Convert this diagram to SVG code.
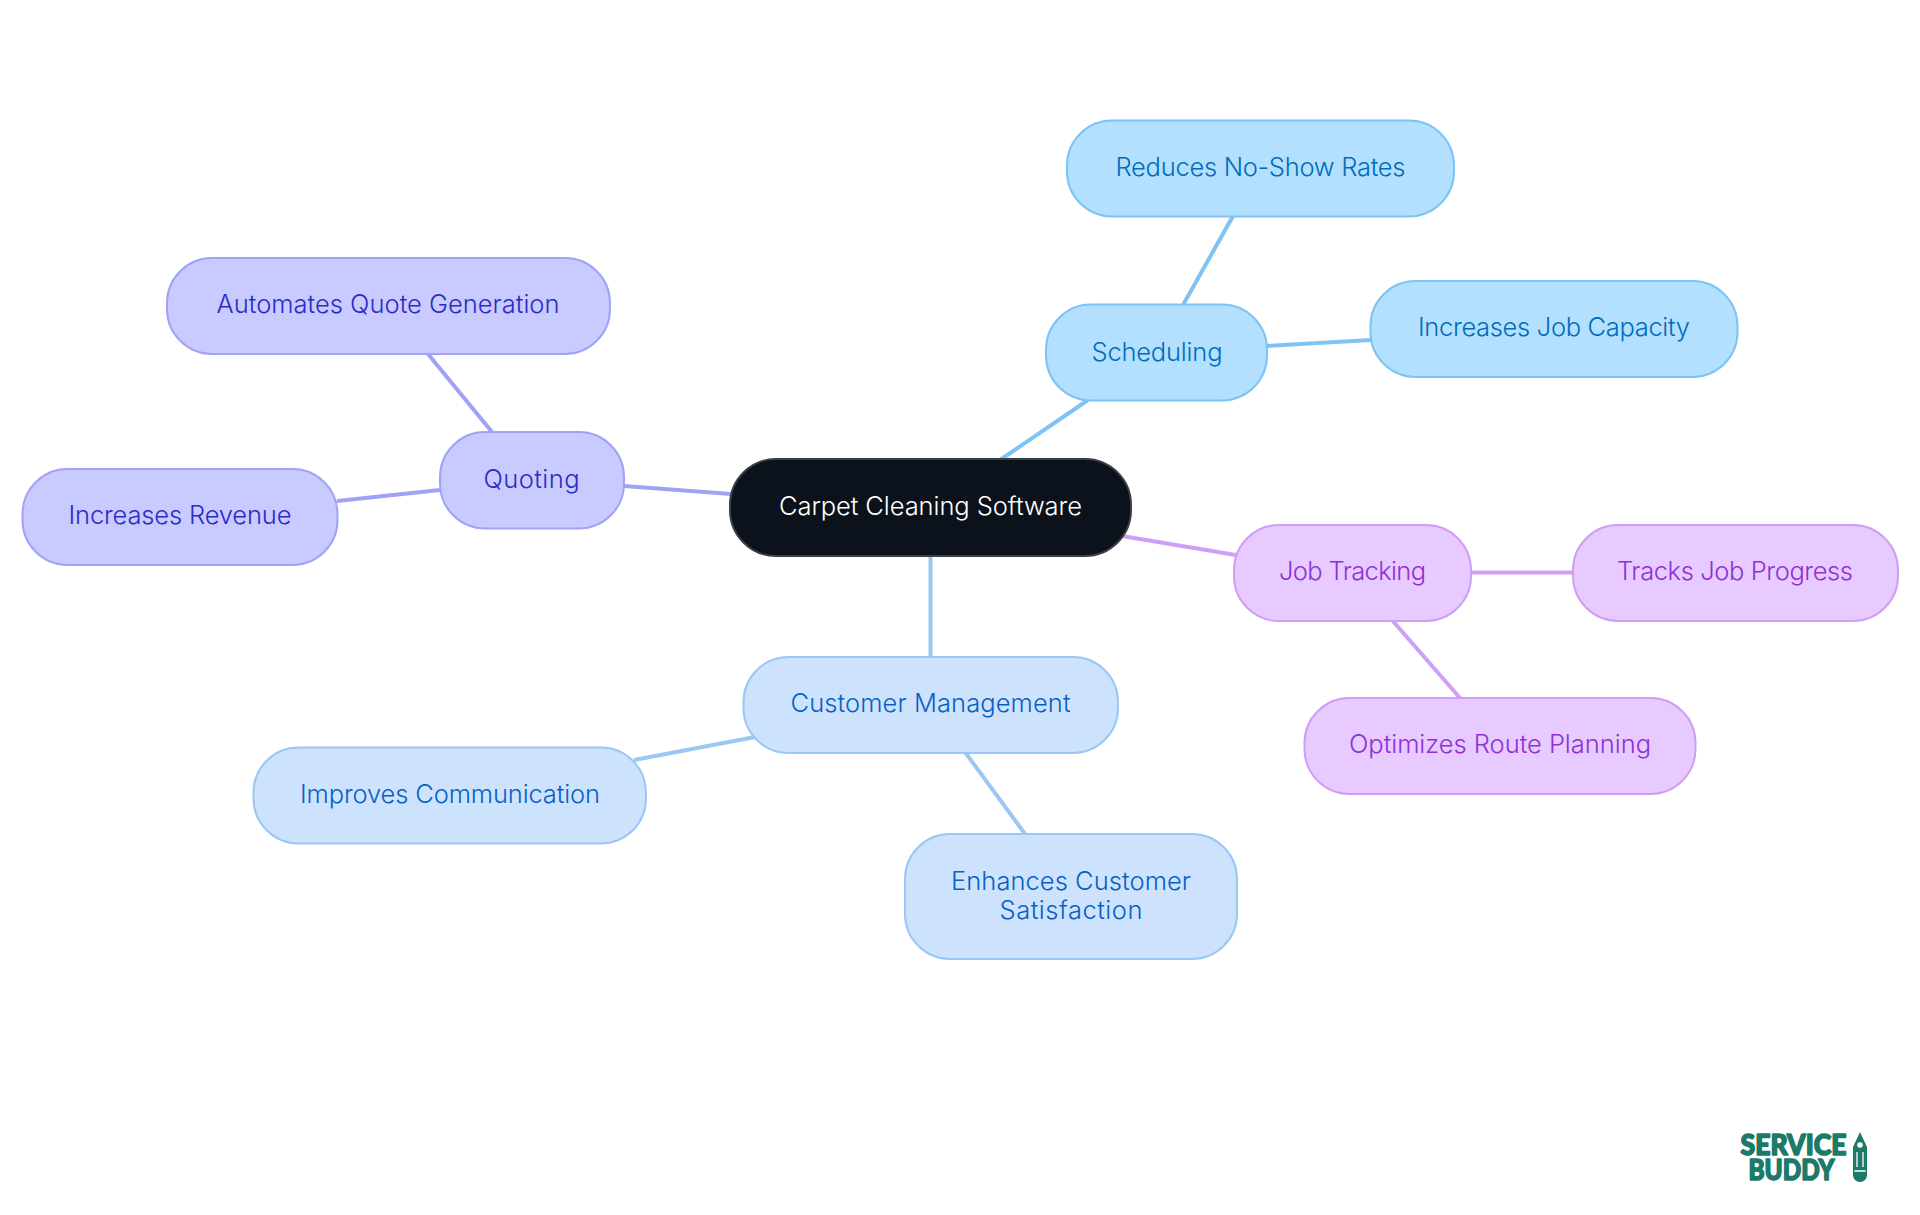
<svg xmlns="http://www.w3.org/2000/svg" width="1920" height="1215" viewBox="0 0 1920 1215">
<style>
text{font-family:"Inter","Noto Sans","Liberation Sans",sans-serif;font-size:25.5px;font-weight:350;text-anchor:middle}
.n{stroke-width:2}
.c{fill:none;stroke-width:4}
.root rect{fill:#0b121b;stroke:#3a3f46}.root text{fill:#fff}
.sch rect{fill:#b3e0ff;stroke:#7fc3f5}.sch text{fill:#006cbd}
.job rect{fill:#e7caff;stroke:#cf9ff5}.job text{fill:#9030d6}
.cus rect{fill:#cde3fd;stroke:#9cc6f3}.cus text{fill:#0860c6}
.quo rect{fill:#c9caff;stroke:#a0a3f5}.quo text{fill:#2a2cc6}
#logo text{font-family:"Lato","Liberation Sans",sans-serif;font-size:29px;font-weight:900;fill:#1b7a68;stroke:#1b7a68;stroke-width:1.600;stroke-linejoin:round}
</style>
<rect width="1920" height="1215" fill="#fff"/>
<g id="connectors">
<g class="c" stroke="#7fc3f5"><line x1="1000" y1="460" x2="1088" y2="400"/><line x1="1183" y1="305" x2="1233" y2="216"/><line x1="1267" y1="346" x2="1371" y2="340"/></g>
<g class="c" stroke="#cf9ff5"><line x1="1122" y1="536" x2="1236" y2="555"/><line x1="1470" y1="572.500" x2="1573" y2="572.500"/><line x1="1392" y1="620" x2="1460" y2="698"/></g>
<g class="c" stroke="#9cc6f3"><line x1="930.500" y1="556" x2="930.500" y2="657"/><line x1="755" y1="737" x2="634" y2="760"/><line x1="965" y1="752" x2="1025" y2="834"/></g>
<g class="c" stroke="#a0a3f5"><line x1="624" y1="486" x2="731" y2="494"/><line x1="492" y1="432" x2="428" y2="354"/><line x1="440" y1="490" x2="337" y2="501"/></g>
</g>
<g id="root" class="root n"><rect x="730" y="459" width="401" height="97" rx="46"/><text x="930.500" y="515" textLength="303">Carpet Cleaning Software</text></g>
<g id="scheduling" class="sch n"><rect x="1046" y="304.500" width="221" height="96" rx="45"/><text x="1157" y="361" textLength="131">Scheduling</text></g>
<g id="no-show" class="sch n"><rect x="1067" y="120.500" width="387" height="96" rx="45"/><text x="1260.500" y="176" textLength="290">Reduces No-Show Rates</text></g>
<g id="capacity" class="sch n"><rect x="1370.500" y="281" width="367" height="96" rx="45"/><text x="1554" y="336" textLength="272">Increases Job Capacity</text></g>
<g id="job-tracking" class="job n"><rect x="1234" y="525" width="237" height="96" rx="45"/><text x="1352.500" y="580" textLength="147">Job Tracking</text></g>
<g id="progress" class="job n"><rect x="1573" y="525" width="325" height="96" rx="45"/><text x="1735" y="580" textLength="236">Tracks Job Progress</text></g>
<g id="route" class="job n"><rect x="1304.500" y="698" width="391" height="96" rx="45"/><text x="1500" y="753" textLength="302">Optimizes Route Planning</text></g>
<g id="customer" class="cus n"><rect x="743.500" y="657" width="374.500" height="96" rx="45"/><text x="930.500" y="712" textLength="280">Customer Management</text></g>
<g id="communication" class="cus n"><rect x="253.500" y="747.500" width="392.500" height="96" rx="45"/><text x="450" y="803" textLength="300">Improves Communication</text></g>
<g id="satisfaction" class="cus n"><rect x="905" y="834" width="332" height="125" rx="45"/><text x="1071" y="890" textLength="240">Enhances Customer</text><text x="1071" y="919" textLength="143">Satisfaction</text></g>
<g id="quoting" class="quo n"><rect x="440" y="432" width="184" height="96.500" rx="45"/><text x="531.500" y="488" textLength="96">Quoting</text></g>
<g id="quote-gen" class="quo n"><rect x="167" y="258" width="443" height="96" rx="45"/><text x="388" y="313" textLength="343">Automates Quote Generation</text></g>
<g id="revenue" class="quo n"><rect x="22.500" y="469" width="315" height="96" rx="45"/><text x="180" y="524" textLength="223">Increases Revenue</text></g>
<g id="logo">
<text x="1793.500" y="1155" textLength="106" lengthAdjust="spacingAndGlyphs">SERVICE</text>
<text x="1791.500" y="1180" textLength="86" lengthAdjust="spacingAndGlyphs">BUDDY</text>
<path d="M1860 1132L1867 1147V1175a7 7 0 0 1-14 0V1147Z" fill="#1b7a68"/>
<circle cx="1860" cy="1145" r="2.800" fill="#fff"/>
<path d="M1857 1152V1167M1863 1152V1167M1854.500 1171H1865.500" fill="none" stroke="#fff" stroke-width="1.300"/>
</g>
</svg>
